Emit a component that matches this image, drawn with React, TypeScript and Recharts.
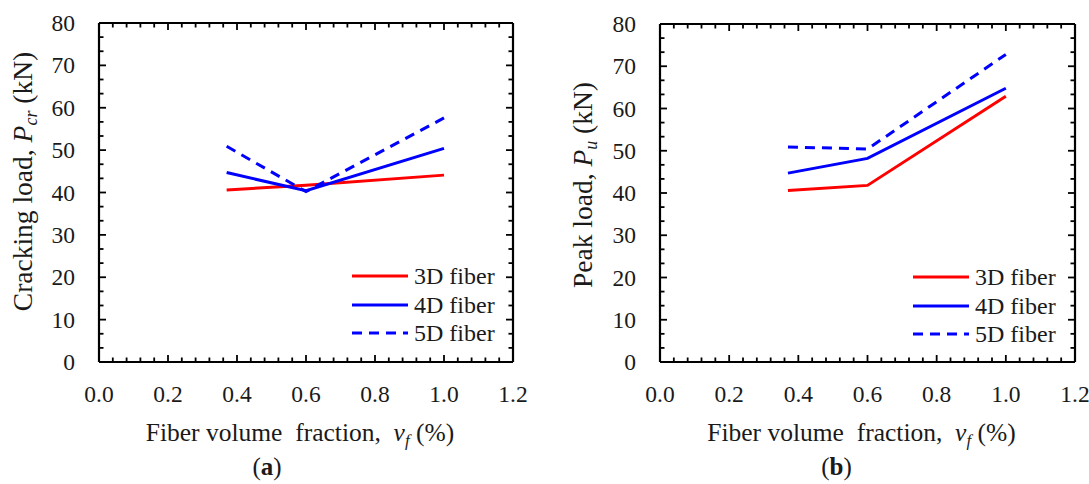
import React from 'react';
import { LineChart, Line, XAxis, YAxis, Legend, Label } from 'recharts';

// ---------- data ----------
const fractions = [0.37, 0.6, 1.0];
const crack3D = [40.6, 41.7, 44.1];
const crack4D = [44.7, 40.4, 50.4];
const crack5D = [50.9, 40.2, 57.6];
const peak3D = [40.6, 41.8, 62.9];
const peak4D = [44.7, 48.2, 64.8];
const peak5D = [50.9, 50.4, 72.8];
const seriesNames = ['3D fiber', '4D fiber', '5D fiber'];
const xMajorTicks = [0, 0.2, 0.4, 0.6, 0.8, 1.0, 1.2];
const xTickLabels = ['0.0', '0.2', '0.4', '0.6', '0.8', '1.0', '1.2'];
const yMajorTicks = [0, 10, 20, 30, 40, 50, 60, 70, 80];
const yTickLabels = ['0', '10', '20', '30', '40', '50', '60', '70', '80'];
const xMinorDivisions = 5;
const yMinorDivisions = 3;

const FONT = '"Liberation Serif", "Times New Roman", serif';
const TEXT = '#1a1a1a';

function subdivide(majors: number[], n: number): number[] {
  const out: number[] = [];
  for (let i = 0; i < majors.length - 1; i++) {
    for (let k = 0; k < n; k++) out.push(majors[i] + ((majors[i + 1] - majors[i]) * k) / n);
  }
  out.push(majors[majors.length - 1]);
  return out;
}
const xAllTicks = subdivide(xMajorTicks, xMinorDivisions);
const yAllTicks = subdivide(yMajorTicks, yMinorDivisions);

const majorIndex = (v: number, majors: number[]) => majors.findIndex((m) => Math.abs(m - v) < 1e-9);

const buildData = (a: number[], b: number[], c: number[]) =>
  fractions.map((x, i) => ({ x, s3: a[i], s4: b[i], s5: c[i] }));

const crackData = buildData(crack3D, crack4D, crack5D);
const peakData = buildData(peak3D, peak4D, peak5D);

// ---------- tick renderers ----------
const MAJ = 7;
const MIN = 4.5;
const TW = 1.8;

const BottomTick = (props: any) => {
  const { x, y, payload } = props;
  const idx = majorIndex(payload.value, xMajorTicks);
  const major = idx >= 0;
  return (
    <g>
      <line x1={x} x2={x} y1={y} y2={y - (major ? MAJ : MIN)} stroke="#000" strokeWidth={TW} />
      {major && (
        <text x={x} y={y + 40} textAnchor="middle" fontFamily={FONT} fontSize={23.5} fill={TEXT}>
          {xTickLabels[idx]}
        </text>
      )}
    </g>
  );
};
const TopTick = (props: any) => {
  const { x, y, payload } = props;
  const major = majorIndex(payload.value, xMajorTicks) >= 0;
  return <line x1={x} x2={x} y1={y} y2={y + (major ? MAJ : MIN)} stroke="#000" strokeWidth={TW} />;
};
const LeftTick = (props: any) => {
  const { x, y, payload } = props;
  const idx = majorIndex(payload.value, yMajorTicks);
  const major = idx >= 0;
  return (
    <g>
      <line x1={x} x2={x + (major ? MAJ : MIN)} y1={y} y2={y} stroke="#000" strokeWidth={TW} />
      {major && (
        <text x={x - 24} y={y + 8} textAnchor="end" fontFamily={FONT} fontSize={23.5} fill={TEXT}>
          {yTickLabels[idx]}
        </text>
      )}
    </g>
  );
};
const RightTick = (props: any) => {
  const { x, y, payload } = props;
  const major = majorIndex(payload.value, yMajorTicks) >= 0;
  return <line x1={x} x2={x - (major ? MAJ : MIN)} y1={y} y2={y} stroke="#000" strokeWidth={TW} />;
};

// ---------- legend ----------
const LegendContent = (props: any) => {
  const { payload } = props;
  return (
    <div style={{ fontFamily: FONT, fontSize: 24, color: TEXT }}>
      {(payload || []).map((e: any) => (
        <div key={e.value} style={{ display: 'flex', alignItems: 'center', height: 28.5 }}>
          <svg width={56} height={10} style={{ display: 'block' }}>
            <line
              x1={0}
              x2={56}
              y1={5}
              y2={5}
              stroke={e.color}
              strokeWidth={3}
              strokeDasharray={e.payload && e.payload.strokeDasharray}
            />
          </svg>
          <span style={{ marginLeft: 6, lineHeight: 1, whiteSpace: 'nowrap' }}>{e.value}</span>
        </div>
      ))}
    </div>
  );
};

// ---------- panel ----------
type PanelProps = {
  data: any[];
  width: number;
  margin: { top: number; right: number; bottom: number; left: number };
  yTitle: string;
  ySub: string;
  letter: string;
  legendPos: { left: number; top: number };
  yTitleDx: number;
  yTitleDy: number;
  xTitleDx: number;
  letterDx: number;
};

const AX = 1; // axis band thickness (must be > 0 for Recharts to draw it)

const Panel = (p: PanelProps) => {
  const axisLine = { stroke: '#000', strokeWidth: 2.2 };
  const m = {
    top: p.margin.top - AX,
    right: p.margin.right - AX,
    bottom: p.margin.bottom - AX,
    left: p.margin.left - AX,
  };
  return (
    <LineChart width={p.width} height={484} data={p.data} margin={m}>
      <XAxis
        xAxisId="b"
        dataKey="x"
        type="number"
        domain={[0, 1.2]}
        allowDataOverflow
        ticks={xAllTicks}
        interval={0}
        tickSize={0}
        tickMargin={0}
        tickLine={false}
        tick={<BottomTick />}
        axisLine={axisLine}
        height={AX}
        orientation="bottom"
      >
        <Label
          content={(lp: any) => {
            const vb = lp.viewBox;
            const cx = vb.x + vb.width / 2 + p.xTitleDx;
            return (
              <g>
                <text
                  x={cx}
                  y={vb.y + 79}
                  textAnchor="middle"
                  fontFamily={FONT}
                  fontSize={25.5}
                  fill={TEXT}
                  style={{ whiteSpace: 'pre' }}
                >
                  <tspan>{'Fiber volume  fraction,  '}</tspan>
                  <tspan fontStyle="italic">v</tspan>
                  <tspan fontStyle="italic" fontSize={17} dy={5}>f</tspan>
                  <tspan dy={-5}>{' (%)'}</tspan>
                </text>
                <text
                  x={cx + p.letterDx}
                  y={vb.y + 113}
                  textAnchor="middle"
                  fontFamily={FONT}
                  fontSize={25}
                  fill={TEXT}
                >
                  <tspan>(</tspan>
                  <tspan fontWeight="bold">{p.letter}</tspan>
                  <tspan>)</tspan>
                </text>
              </g>
            );
          }}
        />
      </XAxis>
      <XAxis
        xAxisId="t"
        dataKey="x"
        type="number"
        domain={[0, 1.2]}
        allowDataOverflow
        ticks={xAllTicks}
        interval={0}
        tickSize={0}
        tickMargin={0}
        tickLine={false}
        tick={<TopTick />}
        axisLine={axisLine}
        height={AX}
        orientation="top"
      />
      <YAxis
        yAxisId="l"
        type="number"
        domain={[0, 80]}
        allowDataOverflow
        ticks={yAllTicks}
        interval={0}
        tickSize={0}
        tickMargin={0}
        tickLine={false}
        tick={<LeftTick />}
        axisLine={axisLine}
        width={AX}
        orientation="left"
      >
        <Label
          content={(lp: any) => {
            const vb = lp.viewBox;
            const cx = vb.x + AX + p.yTitleDx;
            const cy = vb.y + vb.height / 2 + p.yTitleDy;
            return (
              <text
                x={cx}
                y={cy}
                transform={`rotate(-90, ${cx}, ${cy})`}
                textAnchor="middle"
                fontFamily={FONT}
                fontSize={27.5}
                fill={TEXT}
                style={{ whiteSpace: 'pre' }}
              >
                <tspan>{p.yTitle + ' '}</tspan>
                <tspan fontStyle="italic">P</tspan>
                <tspan fontStyle="italic" fontSize={18} dy={5}>{p.ySub}</tspan>
                <tspan dy={-5}>{' (kN)'}</tspan>
              </text>
            );
          }}
        />
      </YAxis>
      <YAxis
        yAxisId="r"
        type="number"
        domain={[0, 80]}
        allowDataOverflow
        ticks={yAllTicks}
        interval={0}
        tickSize={0}
        tickMargin={0}
        tickLine={false}
        tick={<RightTick />}
        axisLine={axisLine}
        width={AX}
        orientation="right"
      />
      <Legend
        layout="vertical"
        align="center"
        verticalAlign="middle"
        content={<LegendContent />}
        wrapperStyle={{ position: 'absolute', left: p.legendPos.left, top: p.legendPos.top, width: 170 }}
      />
      <Line
        xAxisId="b"
        yAxisId="l"
        type="linear"
        dataKey="s3"
        name={seriesNames[0]}
        stroke="#ff0000"
        strokeWidth={3}
        dot={false}
        activeDot={false}
        isAnimationActive={false}
      />
      <Line
        xAxisId="b"
        yAxisId="l"
        type="linear"
        dataKey="s4"
        name={seriesNames[1]}
        stroke="#0000ff"
        strokeWidth={3}
        dot={false}
        activeDot={false}
        isAnimationActive={false}
      />
      <Line
        xAxisId="b"
        yAxisId="l"
        type="linear"
        dataKey="s5"
        name={seriesNames[2]}
        stroke="#0000ff"
        strokeWidth={3}
        strokeDasharray="10 7"
        dot={false}
        activeDot={false}
        isAnimationActive={false}
      />
    </LineChart>
  );
};

export default function App() {
  return (
    <div style={{ position: 'absolute', left: 0, top: 0, width: 1089, height: 484, background: '#fff', overflow: 'hidden' }}>
      <div style={{ position: 'absolute', left: 0, top: 0 }}>
        <Panel
          data={crackData}
          width={545}
          margin={{ top: 23, right: 32, bottom: 122, left: 99 }}
          yTitle="Cracking load,"
          ySub="cr"
          letter="a"
          legendPos={{ left: 352, top: 262 }}
          yTitleDx={-67}
          yTitleDy={-11}
          xTitleDx={-6}
          letterDx={-33}
        />
      </div>
      <div style={{ position: 'absolute', left: 545, top: 0 }}>
        <Panel
          data={peakData}
          width={544}
          margin={{ top: 24, right: 14, bottom: 122, left: 115 }}
          yTitle="Peak load,"
          ySub="u"
          letter="b"
          legendPos={{ left: 368, top: 263 }}
          yTitleDx={-68}
          yTitleDy={-8}
          xTitleDx={-6}
          letterDx={-25}
        />
      </div>
    </div>
  );
}
